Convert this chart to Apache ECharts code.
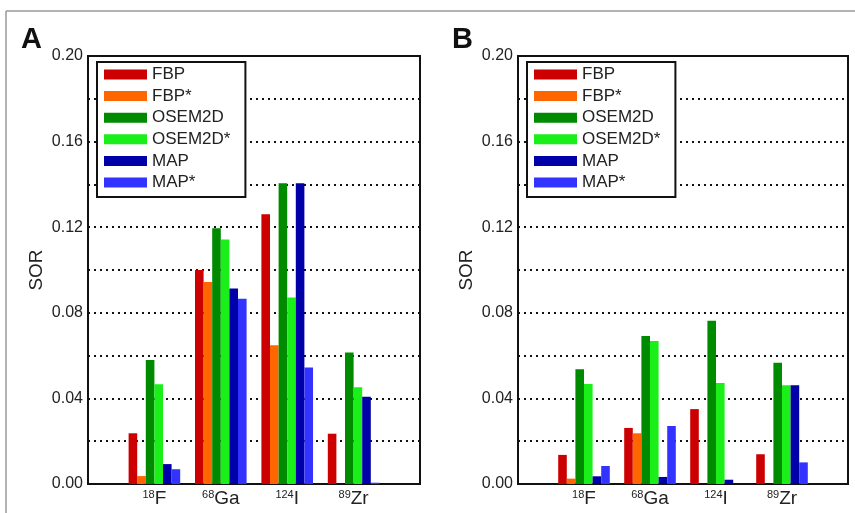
<!DOCTYPE html>
<html>
<head>
<meta charset="utf-8">
<script src="https://cdn.jsdelivr.net/npm/echarts@6/dist/echarts.min.js"></script>
<style>
  html, body { margin: 0; padding: 0; background: #fff; }
  #main { width: 855px; height: 513px; }
</style>
</head>
<body>
<div id="main"></div>
<script>
// isotopes, padded with empty slots so groups sit at 1..4 of 0..5
var categories = ['', '{s|18}F', '{s|68}Ga', '{s|124}I', '{s|89}Zr', ''];
var seriesNames = ['FBP', 'FBP*', 'OSEM2D', 'OSEM2D*', 'MAP', 'MAP*'];
var seriesColors = ['#cc0000', '#ff6600', '#008a00', '#1aef1a', '#0000a8', '#3333ff'];
var yTicks = [0, 0.04, 0.08, 0.12, 0.16, 0.20];

// panel A: per series, values for 18F, 68Ga, 124I, 89Zr
var fbpA     = [0.0237, 0.100, 0.126, 0.0235];
var fbpStarA = [0.0037, 0.0944, 0.0648, null];
var osemA    = [0.058, 0.1195, 0.1405, 0.0614];
var osemStarA= [0.0466, 0.1143, 0.0871, 0.0452];
var mapA     = [0.0093, 0.0914, 0.1405, 0.0408];
var mapStarA = [0.0069, 0.0866, 0.0544, 0.0006];

// panel B
var fbpB     = [0.0136, 0.0262, 0.035, 0.0139];
var fbpStarB = [0.0025, 0.0237, null, null];
var osemB    = [0.0536, 0.0692, 0.0763, 0.0567];
var osemStarB= [0.0467, 0.0668, 0.0472, 0.0461];
var mapB     = [0.0036, 0.0033, 0.002, 0.0461];
var mapStarB = [0.0084, 0.0271, null, 0.0101];

var panelA = [fbpA, fbpStarA, osemA, osemStarA, mapA, mapStarA];
var panelB = [fbpB, fbpStarB, osemB, osemStarB, mapB, mapStarB];

var textColor = '#222';
var font = 'Liberation Sans, Arial, sans-serif';

function pad(arr) {
    return [null].concat(arr, [null]);
}

function makeX(idx) {
    return {
        type: 'category',
        gridIndex: idx,
        data: categories,
        boundaryGap: false,
        axisLine: { show: false },
        axisTick: { show: false },
        axisLabel: {
            margin: 5,
            color: textColor,
            fontFamily: font,
            interval: 0,
            rich: {
                s: { fontSize: 11, lineHeight: 20, verticalAlign: 'top', color: textColor, fontFamily: font },
            },
            fontSize: 19,
            lineHeight: 20
        }
    };
}

function makeY(idx) {
    return {
        type: 'value',
        gridIndex: idx,
        min: 0,
        max: 0.2,
        interval: 0.02,
        name: 'SOR',
        nameLocation: 'middle',
        nameGap: 42,
        nameTextStyle: { color: textColor, fontSize: 19, fontFamily: font },
        axisLine: { show: false },
        axisTick: { show: false },
        axisLabel: {
            margin: 5,
            color: textColor,
            fontSize: 16,
            fontFamily: font,
            formatter: function (v) {
                for (var i = 0; i < yTicks.length; i++) {
                    if (Math.abs(v - yTicks[i]) < 1e-6) return v.toFixed(2);
                }
                return '';
            }
        },
        splitLine: {
            show: true,
            lineStyle: { color: '#111', width: 2, type: [2, 4] }
        }
    };
}

function makeLegend(left) {
    return {
        orient: 'vertical',
        left: left,
        top: 62,
        data: seriesNames,
        icon: 'rect',
        itemWidth: 43,
        itemHeight: 10,
        itemGap: 4.6,
        padding: [4, 15, 6, 7],
        backgroundColor: '#fff',
        borderColor: '#111',
        borderWidth: 2,
        borderRadius: 0,
        selectedMode: false,
        textStyle: { color: textColor, fontSize: 17, lineHeight: 17, fontFamily: font }
    };
}

var series = [];
[panelA, panelB].forEach(function (panel, p) {
    panel.forEach(function (vals, i) {
        series.push({
            name: seriesNames[i],
            type: 'bar',
            xAxisIndex: p,
            yAxisIndex: p,
            data: pad(vals),
            barWidth: 8.6,
            barGap: '0%',
            itemStyle: { color: seriesColors[i] }
        });
    });
});

var chart = echarts.init(document.getElementById('main'));
chart.setOption({
    animation: false,
    backgroundColor: '#fff',
    textStyle: { fontFamily: font },
    grid: [
        { left: 88, right: 435, top: 56, bottom: 29, show: true, borderColor: '#111', borderWidth: 2, backgroundColor: 'transparent' },
        { left: 518, right: 7, top: 56, bottom: 29, show: true, borderColor: '#111', borderWidth: 2, backgroundColor: 'transparent' }
    ],
    xAxis: [makeX(0), makeX(1)],
    yAxis: [makeY(0), makeY(1)],
    legend: [makeLegend(97), makeLegend(527)],
    graphic: [
        { type: 'line', shape: { x1: 6, y1: 11, x2: 855, y2: 11 }, style: { stroke: '#999', lineWidth: 1.5 } },
        { type: 'line', shape: { x1: 6, y1: 11, x2: 6, y2: 513 }, style: { stroke: '#999', lineWidth: 1.5 } },
        { type: 'text', left: 21, top: 25, style: { text: 'A', fontSize: 29, fontWeight: 'bold', fill: '#111', fontFamily: font } },
        { type: 'text', left: 452, top: 25, style: { text: 'B', fontSize: 29, fontWeight: 'bold', fill: '#111', fontFamily: font } }
    ],
    series: series
});
</script>
</body>
</html>
